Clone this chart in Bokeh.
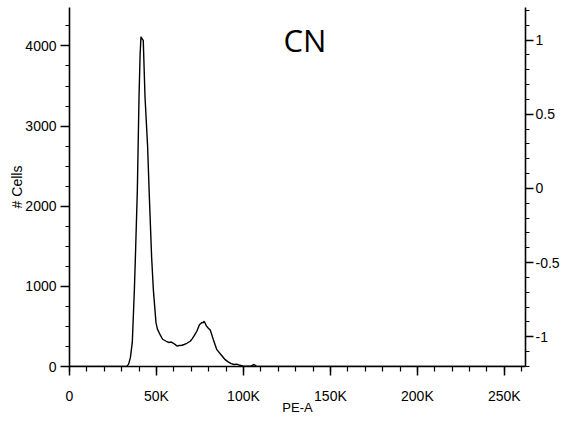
from bokeh.plotting import figure
from bokeh.models import (LinearAxis, Range1d, FixedTicker, Label)
from bokeh.embed import file_html
from bokeh.resources import INLINE

# ---- data (PE-A channel vs # cells) ----
pe_a = [0, 30000, 33000, 34000, 35000, 36100, 37300, 38000, 39000, 39970,
        40600, 41100, 41700, 42400, 43400, 44900, 45900, 47200, 48200, 49700,
        50500, 52000, 53500, 55600, 57000, 58500, 59800, 61000, 61800, 63000,
        64600, 66000, 67500, 69400, 70500, 71700, 73200, 74700, 76100, 76800,
        77400, 78000, 78600, 79700, 80900, 82700, 84700, 87000, 89500, 91400,
        93000, 94500, 96200, 98000, 100000, 104000, 106100, 107500, 262144]
cells = [0, 0, 5, 30, 110, 300, 960, 1450, 2200, 3370,
         3900, 4115, 4090, 4070, 3370, 2745, 2120, 1370, 960, 550,
         470, 400, 340, 315, 300, 305, 290, 270, 255, 262,
         265, 275, 290, 315, 345, 385, 440, 520, 550, 545,
         565, 540, 510, 480, 455, 335, 210, 150, 85, 55,
         35, 25, 30, 15, 5, 3, 25, 3, 0]

x_ticks = [0, 50000, 100000, 150000, 200000, 250000]
x_tick_labels = ["0", "50K", "100K", "150K", "200K", "250K"]
y_ticks = [0, 1000, 2000, 3000, 4000]
right_ticks = [-1, -0.5, 0, 0.5, 1]
right_tick_labels = ["-1", "-0.5", "0", "0.5", "1"]
title_text = "CN"

X_MAX = 262144
Y_MAX = 4480

p = figure(frame_width=456, frame_height=359, output_backend="svg",
           toolbar_location=None,
           x_range=Range1d(0, X_MAX), y_range=Range1d(0, Y_MAX),
           min_border_left=69, min_border_right=30, min_border_top=7,
           min_border_bottom=50, x_axis_type=None, y_axis_type=None)
p.outline_line_color = None
p.xgrid.visible = False
p.ygrid.visible = False
p.background_fill_color = "white"
p.border_fill_color = "white"

font = "Liberation Sans"

def style(ax, major_out=9, minor_out=4):
    ax.axis_line_width = 1.6
    ax.axis_line_color = "black"
    ax.major_tick_in = 0
    ax.major_tick_out = major_out
    ax.minor_tick_in = 0
    ax.minor_tick_out = minor_out
    ax.major_tick_line_width = 1.5
    ax.minor_tick_line_width = 1.2
    ax.major_tick_line_color = "black"
    ax.minor_tick_line_color = "black"
    ax.major_label_text_font = font
    ax.major_label_text_font_size = "14px"
    ax.major_label_text_color = "black"
    ax.axis_label_text_font = font
    ax.axis_label_text_font_style = "normal"
    ax.axis_label_text_color = "black"

# bottom axis
xa = LinearAxis(ticker=FixedTicker(ticks=x_ticks,
                                   minor_ticks=list(range(0, 262144, 10000))))
xa.major_label_overrides = {t: l for t, l in zip(x_ticks, x_tick_labels)}
style(xa, 9, 5)
xa.axis_label = "PE-A"
xa.axis_label_text_font_size = "13px"
xa.major_label_standoff = 12
xa.axis_label_standoff = -7
p.add_layout(xa, "below")

# left axis
ya = LinearAxis(ticker=FixedTicker(ticks=y_ticks,
                                   minor_ticks=list(range(0, 4481, 250))))
style(ya, 9, 4)
ya.axis_label = "# Cells"
ya.axis_label_text_font_size = "14px"
ya.major_label_standoff = 4
ya.axis_label_standoff = -3
p.add_layout(ya, "left")

# right axis
p.extra_y_ranges = {"right": Range1d(-1.2, 1.22)}
ra = LinearAxis(y_range_name="right",
                ticker=FixedTicker(ticks=right_ticks,
                                   minor_ticks=[round(-1.2 + 0.1 * i, 1) for i in range(25)]))
ra.major_label_overrides = {t: l for t, l in zip(right_ticks, right_tick_labels)}
style(ra, 8, 4)
ra.major_label_standoff = 2
ra.axis_label_standoff = 0
p.add_layout(ra, "right")

p.line(pe_a, cells, line_color="black", line_width=1.4)

p.add_layout(Label(x=135400, y=4080, text=title_text, text_align="center",
                   text_baseline="middle", text_font="Open Sans",
                   text_font_size="31px", text_color="black"))

open("out.html", "w").write(file_html(p, INLINE))
